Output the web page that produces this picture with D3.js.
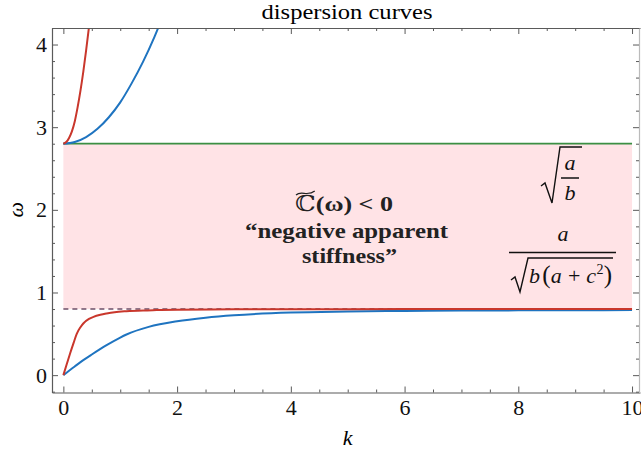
<!DOCTYPE html>
<html><head><meta charset="utf-8">
<script src="https://cdn.jsdelivr.net/npm/d3@7"></script>
<style>body{margin:0;background:#fff}svg{display:block}</style>
</head><body>
<svg id="c" width="641" height="452"></svg>
<script>
// ---- data ----
const xTicks = [0, 2, 4, 6, 8, 10];
const yTicks = [0, 1, 2, 3, 4];
const bandLow = 0.8;    // a / sqrt(b(a+c^2))
const bandHigh = 2.8;   // sqrt(a/b)
const bandK = [0, 10];

const redUpperK = [0, 0.05, 0.1, 0.15, 0.2, 0.25, 0.3, 0.35, 0.4, 0.45, 0.5];
const redUpperW = [2.8, 2.82, 2.87, 2.95, 3.07, 3.24, 3.44, 3.67, 3.93, 4.21, 4.52];
const blueUpperK = [0, 0.2, 0.4, 0.6, 0.8, 1.0, 1.2, 1.4, 1.6, 1.8];
const blueUpperW = [2.8, 2.82, 2.88, 2.98, 3.12, 3.3, 3.53, 3.79, 4.09, 4.43];
const redLowerK = [0, 0.06, 0.118, 0.18, 0.235, 0.3, 0.35, 0.45, 0.53, 0.65, 0.76, 0.9, 1.11, 1.4, 1.64, 2, 3, 4, 6, 10];
const redLowerW = [0, 0.135, 0.262, 0.39, 0.5, 0.58, 0.625, 0.68, 0.705, 0.73, 0.746, 0.762, 0.774, 0.783, 0.787, 0.792, 0.796, 0.798, 0.799, 0.8];
const blueLowerK = [0, 0.2, 0.35, 0.5, 0.76, 1.0, 1.11, 1.5, 2, 2.5, 3, 4, 5, 6, 7, 8, 9, 10];
const blueLowerW = [0, 0.105, 0.181, 0.25, 0.363, 0.455, 0.492, 0.584, 0.652, 0.695, 0.725, 0.758, 0.77, 0.777, 0.781, 0.784, 0.786, 0.787];

const title = "dispersion curves";
const xLabel = "k";
const yLabel = "ω";

// ---- layout ----
const svg = d3.select("#c");
const L = 52, R = 640, T = 28, B = 392.5;
const x = d3.scaleLinear().domain([-0.2, 10.14]).range([L, R]);
const y = d3.scaleLinear().domain([-0.21, 4.2]).range([B, T]);
const serif = "'Liberation Serif', 'DejaVu Serif', serif";
const axisCol = "#5a5a5a";

svg.append("defs").append("clipPath").attr("id", "clip")
  .append("rect").attr("x", L).attr("y", T).attr("width", R - L).attr("height", B - T);

// band
svg.append("rect")
  .attr("x", x(bandK[0])).attr("width", x(bandK[1]) - x(bandK[0]))
  .attr("y", y(bandHigh)).attr("height", y(bandLow) - y(bandHigh))
  .attr("fill", "#ffe3e6");

const g = svg.append("g").attr("clip-path", "url(#clip)");
const line = d3.line().x(d => x(d[0])).y(d => y(d[1])).curve(d3.curveMonotoneX);

// dashed lower limit
g.append("line").attr("x1", x(bandK[0])).attr("x2", x(bandK[1]))
  .attr("y1", y(bandLow)).attr("y2", y(bandLow))
  .attr("stroke", "#6e5068").attr("stroke-width", 1.7).attr("stroke-dasharray", "5,4");
// green upper limit
g.append("line").attr("x1", x(bandK[0])).attr("x2", x(bandK[1]))
  .attr("y1", y(bandHigh)).attr("y2", y(bandHigh))
  .attr("stroke", "#3b8f43").attr("stroke-width", 1.8);

const red = "#c9372c", blue = "#1f74c0";
const series = [
  [blueLowerK, blueLowerW, blue],
  [redLowerK, redLowerW, red],
  [blueUpperK, blueUpperW, blue],
  [redUpperK, redUpperW, red]
];
series.forEach(([ks, ws, col]) => {
  g.append("path").datum(ks.map((k, i) => [k, ws[i]]))
    .attr("d", line).attr("fill", "none").attr("stroke", col).attr("stroke-width", 2);
});

// ---- axes / frame ----
const xMinor = d3.range(-0.0, 10.01, 0.5).filter(v => v % 2 !== 0);
const yMinor = d3.range(-0.2, 4.21, 0.2).map(v => +v.toFixed(2)).filter(v => Math.abs(v - Math.round(v)) > 1e-6);

function styleAxis(sel) {
  sel.select(".domain").attr("stroke", axisCol).attr("stroke-width", 1.2);
  sel.selectAll(".tick line").attr("stroke", axisCol);
  sel.selectAll("text").attr("font-family", serif).attr("font-size", 22).attr("fill", "#111");
}
// bottom
let a = svg.append("g").attr("transform", `translate(0,${B})`)
  .call(d3.axisBottom(x).tickValues(xTicks).tickSizeInner(-6).tickSizeOuter(0).tickPadding(7).tickFormat(d3.format("d")));
styleAxis(a);
a = svg.append("g").attr("transform", `translate(0,${B})`)
  .call(d3.axisBottom(x).tickValues(xMinor).tickSizeInner(-3).tickSizeOuter(0).tickFormat(""));
styleAxis(a); a.select(".domain").remove();
// top
a = svg.append("g").attr("transform", `translate(0,${T})`)
  .call(d3.axisTop(x).tickValues(xTicks).tickSizeInner(-6).tickSizeOuter(0).tickFormat(""));
styleAxis(a);
a = svg.append("g").attr("transform", `translate(0,${T})`)
  .call(d3.axisTop(x).tickValues(xMinor).tickSizeInner(-3).tickSizeOuter(0).tickFormat(""));
styleAxis(a); a.select(".domain").remove();
// left
a = svg.append("g").attr("transform", `translate(${L},0)`)
  .call(d3.axisLeft(y).tickValues(yTicks).tickSizeInner(-6).tickSizeOuter(0).tickPadding(5).tickFormat(d3.format("d")));
styleAxis(a);
a = svg.append("g").attr("transform", `translate(${L},0)`)
  .call(d3.axisLeft(y).tickValues(yMinor).tickSizeInner(-3).tickSizeOuter(0).tickFormat(""));
styleAxis(a); a.select(".domain").remove();
// right
a = svg.append("g").attr("transform", `translate(${R - 1},0)`)
  .call(d3.axisRight(y).tickValues(yTicks).tickSizeInner(-6).tickSizeOuter(0).tickFormat(""));
styleAxis(a); a.select(".domain").attr("stroke", "#bbb");
a = svg.append("g").attr("transform", `translate(${R - 1},0)`)
  .call(d3.axisRight(y).tickValues(yMinor).tickSizeInner(-3).tickSizeOuter(0).tickFormat(""));
styleAxis(a); a.select(".domain").remove();

// labels
svg.append("text").attr("x", 347).attr("y", 18.5).attr("text-anchor", "middle")
  .attr("font-family", serif).attr("font-size", 22).attr("textLength", 171).attr("lengthAdjust", "spacingAndGlyphs").text(title);
svg.append("text").attr("x", x(5)).attr("y", 445).attr("text-anchor", "middle")
  .attr("font-family", serif).attr("font-style", "italic").attr("font-size", 22).text(xLabel);
svg.append("text").attr("transform", `translate(23,${y(2)}) rotate(-90)`).attr("text-anchor", "middle")
  .attr("font-family", serif).attr("font-style", "italic").attr("font-size", 22).text(yLabel);

// annotation
const ann = svg.append("g").attr("font-family", serif).attr("font-weight", "bold").attr("text-anchor", "middle").attr("fill", "#222");
const t1 = ann.append("text").attr("x", 344).attr("y", 211).attr("font-size", 22)
  .attr("textLength", 98).attr("lengthAdjust", "spacingAndGlyphs");
t1.append("tspan").attr("font-family", "'DejaVu Serif', serif").attr("font-weight", "normal").text("ℂ");
t1.append("tspan").text("(ω) < 0");
ann.append("text").attr("x", 346.5).attr("y", 238).attr("font-size", 21)
  .attr("textLength", 203).attr("lengthAdjust", "spacingAndGlyphs").text("“negative apparent");
ann.append("text").attr("x", 349.5).attr("y", 263).attr("font-size", 21)
  .attr("textLength", 95).attr("lengthAdjust", "spacingAndGlyphs").text("stiffness”");
// tilde over C
const ext = t1.node().getExtentOfChar(0);
const tx = ext.x, tw = ext.width;
svg.append("path")
  .attr("d", `M${tx + 1},${195} C${tx + tw * 0.3},${190} ${tx + tw * 0.6},${197} ${tx + tw - 1},${191}`)
  .attr("fill", "none").attr("stroke", "#222").attr("stroke-width", 1.2);

// formulas
const fm = svg.append("g").attr("font-family", serif).attr("font-style", "italic").attr("fill", "#111").attr("font-size", 22);
fm.append("text").attr("x", 570).attr("y", 170).attr("text-anchor", "middle").text("a");
fm.append("line").attr("x1", 561).attr("x2", 579).attr("y1", 178).attr("y2", 178).attr("stroke", "#111").attr("stroke-width", 1.5);
fm.append("text").attr("x", 570).attr("y", 200).attr("text-anchor", "middle").text("b");
fm.append("path").attr("d", "M541,186 L545,183 L552,203 L560,147 L582,147")
  .attr("fill", "none").attr("stroke", "#111").attr("stroke-width", 1.4).attr("stroke-linejoin", "miter");

fm.append("text").attr("x", 563).attr("y", 241).attr("text-anchor", "middle").text("a");
fm.append("line").attr("x1", 509).attr("x2", 616).attr("y1", 252.5).attr("y2", 252.5).attr("stroke", "#111").attr("stroke-width", 1.6);
fm.append("path").attr("d", "M511,280 L515,277 L520,292 L528,258 L613,258")
  .attr("fill", "none").attr("stroke", "#111").attr("stroke-width", 1.4);
const den = fm.append("text").attr("x", 529).attr("y", 283).attr("textLength", 83).attr("lengthAdjust", "spacing");
den.append("tspan").text("b");
den.append("tspan").attr("font-style", "normal").attr("font-size", 25).attr("dx", 2).text("(");
den.append("tspan").text("a");
den.append("tspan").attr("font-style", "normal").text(" + ");
den.append("tspan").text("c");
den.append("tspan").attr("font-style", "normal").attr("font-size", 14).attr("dy", -9).text("2");
den.append("tspan").attr("font-style", "normal").attr("font-size", 25).attr("dy", 9).text(")");
</script>
</body></html>
